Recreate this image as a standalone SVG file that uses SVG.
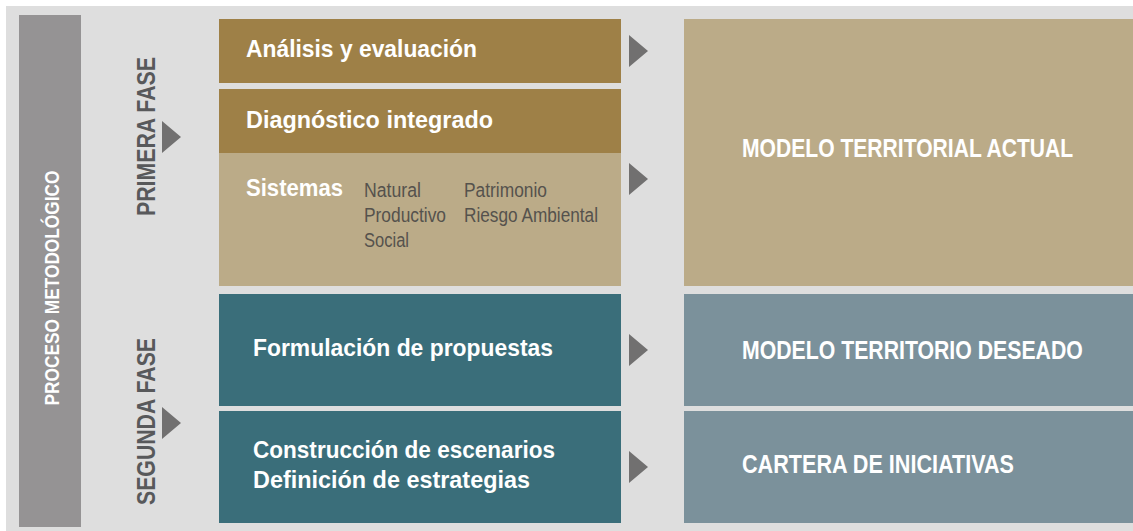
<svg xmlns="http://www.w3.org/2000/svg" width="1133" height="531" viewBox="0 0 1133 531">
  <style>
    .hd { font-family: "Liberation Sans", Arial, sans-serif; font-weight: bold; fill: #ffffff; }
    .sub { font-family: "Liberation Sans", Arial, sans-serif; fill: #55524d; font-size: 20px; }
    .phase { font-family: "Liberation Sans", Arial, sans-serif; font-weight: bold; fill: #58595b; font-size: 26px; }
    .arrow { fill: #717070; }
    .gold { fill: #9e8047; }
    .sand { fill: #bbab88; }
    .teal { fill: #3a6e7a; }
    .slate { fill: #7b919b; }
  </style>
  <rect x="0" y="0" width="1133" height="531" fill="#ffffff"/>
  <rect x="6" y="6" width="1127" height="525" fill="#dedede"/>

  <g id="proceso">
    <rect x="19" y="15" width="62" height="512" fill="#959394"/>
    <text class="hd" font-size="20" font-weight="normal" fill="#f2f2f2" text-anchor="middle" textLength="235" lengthAdjust="spacingAndGlyphs" transform="translate(59,288) rotate(-90)">PROCESO METODOLÓGICO</text>
  </g>

  <g id="primera-fase">
    <text class="phase" text-anchor="middle" textLength="159" lengthAdjust="spacingAndGlyphs" transform="translate(155,136.5) rotate(-90)">PRIMERA FASE</text>
    <polygon class="arrow" points="162,121 181,137 162,153"/>
  </g>
  <g id="segunda-fase">
    <text class="phase" text-anchor="middle" textLength="167" lengthAdjust="spacingAndGlyphs" transform="translate(155,421.5) rotate(-90)">SEGUNDA FASE</text>
    <polygon class="arrow" points="162,407 181,423 162,439"/>
  </g>

  <g id="analisis">
    <rect class="gold" x="219" y="19" width="402" height="64"/>
    <text class="hd" x="246" y="57" font-size="24" textLength="231" lengthAdjust="spacingAndGlyphs">Análisis y evaluación</text>
  </g>
  <g id="diagnostico">
    <rect class="gold" x="219" y="89" width="402" height="64"/>
    <text class="hd" x="246" y="128" font-size="24" textLength="247" lengthAdjust="spacingAndGlyphs">Diagnóstico integrado</text>
  </g>
  <g id="sistemas">
    <rect class="sand" x="219" y="153" width="402" height="133"/>
    <text class="hd" x="246" y="196" font-size="24" textLength="97" lengthAdjust="spacingAndGlyphs">Sistemas</text>
    <text class="sub" x="364" y="197" textLength="57" lengthAdjust="spacingAndGlyphs">Natural</text>
    <text class="sub" x="364" y="222" textLength="82" lengthAdjust="spacingAndGlyphs">Productivo</text>
    <text class="sub" x="364" y="247" textLength="45" lengthAdjust="spacingAndGlyphs">Social</text>
    <text class="sub" x="464" y="197" textLength="83" lengthAdjust="spacingAndGlyphs">Patrimonio</text>
    <text class="sub" x="464" y="222" textLength="134" lengthAdjust="spacingAndGlyphs">Riesgo Ambiental</text>
  </g>
  <g id="formulacion">
    <rect class="teal" x="219" y="294" width="402" height="112"/>
    <text class="hd" x="253" y="356" font-size="24" textLength="300" lengthAdjust="spacingAndGlyphs">Formulación de propuestas</text>
  </g>
  <g id="construccion">
    <rect class="teal" x="219" y="411" width="402" height="112"/>
    <text class="hd" x="253" y="458" font-size="24" textLength="302" lengthAdjust="spacingAndGlyphs">Construcción de escenarios</text>
    <text class="hd" x="253" y="488" font-size="24" textLength="277" lengthAdjust="spacingAndGlyphs">Definición de estrategias</text>
  </g>

  <g id="modelo-actual">
    <rect class="sand" x="684" y="19" width="449" height="267"/>
    <text class="hd" font-size="26" textLength="414" lengthAdjust="spacingAndGlyphs" transform="translate(742,157) scale(0.8,1)">MODELO TERRITORIAL ACTUAL</text>
  </g>
  <g id="modelo-deseado">
    <rect class="slate" x="684" y="294" width="449" height="112"/>
    <text class="hd" font-size="26" textLength="426" lengthAdjust="spacingAndGlyphs" transform="translate(742,359) scale(0.8,1)">MODELO TERRITORIO DESEADO</text>
  </g>
  <g id="cartera">
    <rect class="slate" x="684" y="411" width="449" height="112"/>
    <text class="hd" font-size="26" textLength="340" lengthAdjust="spacingAndGlyphs" transform="translate(742,473) scale(0.8,1)">CARTERA DE INICIATIVAS</text>
  </g>

  <g id="connectors">
    <polygon class="arrow" points="629,35 648,51 629,67"/>
    <polygon class="arrow" points="629,163 648,179 629,195"/>
    <polygon class="arrow" points="629,334 648,350 629,366"/>
    <polygon class="arrow" points="629,451 648,467 629,483"/>
  </g>
</svg>
